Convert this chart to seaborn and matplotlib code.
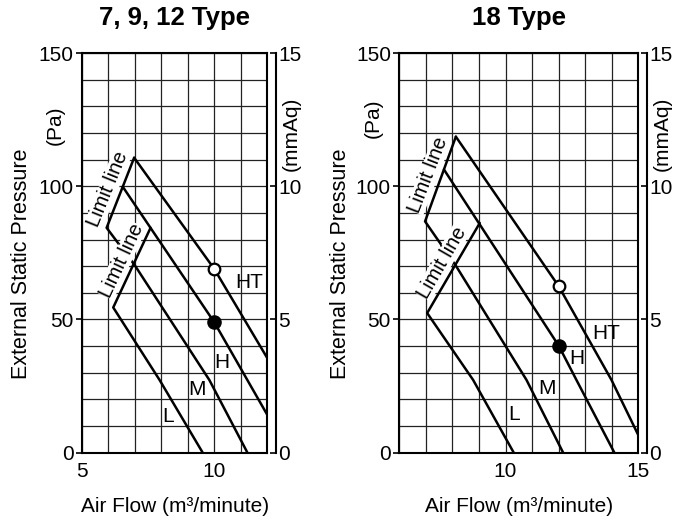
import numpy as np
import pandas as pd
import matplotlib
matplotlib.use("Agg")
import matplotlib.pyplot as plt
from matplotlib.ticker import MultipleLocator
import seaborn as sns

sns.set_style("ticks")
plt.rcParams['font.family'] = ['Liberation Sans', 'DejaVu Sans']
for key in ("text.color", "axes.labelcolor", "xtick.color", "ytick.color"):
    plt.rcParams[key] = "black"

# ---- 7, 9, 12 Type : air flow (m3/min) vs external static pressure (Pa) ----
small_ht_x = [6.97, 10.0, 12.0]
small_ht_y = [110.7, 68.9, 35.5]
small_h_x = [6.54, 10.0, 12.0]
small_h_y = [99.8, 48.9, 14.2]
small_m_x = [5.93, 6.99, 9.81, 11.25]
small_m_y = [84.4, 70.4, 27.3, 0.0]
small_l_x = [6.18, 7.93, 9.56]
small_l_y = [54.5, 27.3, 0.0]
small_limit_hi_x = [6.97, 5.93]
small_limit_hi_y = [110.7, 84.4]
small_limit_lo_x = [7.59, 6.18]
small_limit_lo_y = [84.4, 54.5]
small_rated_x = 10.0
small_rated_ht = 68.9
small_rated_h = 48.9

# ---- 18 Type ----
big_ht_x = [8.13, 12.0, 13.99, 15.0]
big_ht_y = [118.6, 62.5, 27.3, 6.6]
big_h_x = [7.68, 12.0, 12.67, 14.1]
big_h_y = [106.3, 40.2, 27.3, 0.0]
big_m_x = [6.97, 8.16, 10.79, 12.17]
big_m_y = [86.8, 69.7, 27.3, 0.0]
big_l_x = [7.05, 8.78, 10.31]
big_l_y = [52.4, 27.3, 0.0]
big_limit_hi_x = [8.13, 6.97]
big_limit_hi_y = [118.6, 86.8]
big_limit_lo_x = [9.03, 7.05]
big_limit_lo_y = [86.2, 52.4]
big_rated_x = 12.0
big_rated_ht = 62.5
big_rated_h = 40.2

speed_names = ["HT", "H", "M", "L"]
titles = ["7, 9, 12 Type", "18 Type"]
x_limits = [(5, 12), (6, 15)]
x_major = [[5, 10], [10, 15]]
pa_ticks = [0, 50, 100, 150]
mmaq_ticks = [0, 5, 10, 15]

small_label_pos = {"HT": (11.3, 64), "H": (10.3, 34), "M": (9.35, 23.6), "L": (8.25, 13.5)}
big_label_pos = {"HT": (13.8, 44.9), "H": (12.67, 35.5), "M": (11.56, 24.2), "L": (10.31, 14.5)}
small_limit_text = [(5.98, 98.8, 68), (6.49, 72.2, 65)]
big_limit_text = [(7.1, 104.2, 69), (7.62, 71.4, 60)]


def curve_frame(pairs):
    rows = []
    for name, xs, ys in pairs:
        for x, y in zip(xs, ys):
            rows.append({"flow": x, "pressure": y, "curve": name})
    return pd.DataFrame(rows)


panels = [
    dict(df=curve_frame([
        ("HT", small_ht_x, small_ht_y), ("H", small_h_x, small_h_y),
        ("M", small_limit_hi_x + small_m_x, small_limit_hi_y + small_m_y),
        ("L", small_limit_lo_x + small_l_x, small_limit_lo_y + small_l_y)]),
        rated_x=small_rated_x, rated_ht=small_rated_ht, rated_h=small_rated_h,
        labels=small_label_pos, limit_text=small_limit_text),
    dict(df=curve_frame([
        ("HT", big_ht_x, big_ht_y), ("H", big_h_x, big_h_y),
        ("M", big_limit_hi_x + big_m_x, big_limit_hi_y + big_m_y),
        ("L", big_limit_lo_x + big_l_x, big_limit_lo_y + big_l_y)]),
        rated_x=big_rated_x, rated_ht=big_rated_ht, rated_h=big_rated_h,
        labels=big_label_pos, limit_text=big_limit_text),
]

W, H = 682, 528
fig = plt.figure(figsize=(W / 100, H / 100), dpi=100)
axes_px = [(82, 267.3), (399.3, 638.3)]
top_px, bottom_px = 53, 452.7

fs = 15
for i, (p, (l, r)) in enumerate(zip(panels, axes_px)):
    ax = fig.add_axes([l / W, 1 - bottom_px / H, (r - l) / W, (bottom_px - top_px) / H])
    ax.set_xlim(*x_limits[i])
    ax.set_ylim(0, 150)
    ax.xaxis.set_minor_locator(MultipleLocator(1))
    ax.yaxis.set_minor_locator(MultipleLocator(10))
    ax.set_xticks(x_major[i])
    ax.set_yticks(pa_ticks)
    ax.grid(which="both", color="#222222", lw=0.9, zorder=0)
    ax.set_axisbelow(True)
    ax.tick_params(axis="x", which="both", length=0, pad=7, labelsize=fs)
    ax.tick_params(axis="y", which="major", direction="out", length=4.5, width=1.2,
                   pad=1.5, labelsize=fs)
    ax.tick_params(axis="y", which="minor", length=0)
    for s in ax.spines.values():
        s.set_linewidth(1.5)
        s.set_color("black")

    sns.lineplot(data=p["df"], x="flow", y="pressure", units="curve", estimator=None,
                 sort=False, color="black", lw=1.8, ax=ax, zorder=3, legend=False)
    sns.scatterplot(x=[p["rated_x"]], y=[p["rated_ht"]], ax=ax, s=70, color="white",
                    edgecolor="black", linewidth=1.6, zorder=5)
    sns.scatterplot(x=[p["rated_x"]], y=[p["rated_h"]], ax=ax, s=110, color="black",
                    edgecolor="black", linewidth=0, zorder=5)
    ax.set_xlabel("")
    ax.set_ylabel("")

    for name in speed_names:
        x, y = p["labels"][name]
        ax.text(x, y, name, fontsize=fs, ha="center", va="center", zorder=6)
    for x, y, rot in p["limit_text"]:
        ax.text(x, y, "Limit line", fontsize=14.5, rotation=rot, ha="center", va="center",
                rotation_mode="anchor", zorder=4,
                bbox=dict(boxstyle="square,pad=0.0", fc="white", ec="none"))

    ax.set_title(titles[i], fontsize=18.5, fontweight="bold", pad=20)

    # secondary pressure scale in mmAq
    ax2 = ax.twinx()
    ax2.set_ylim(0, 15)
    ax2.set_yticks(mmaq_ticks)
    for side in ("top", "bottom", "left"):
        ax2.spines[side].set_visible(False)
    ax2.spines["right"].set_position(("outward", 6.5))
    ax2.spines["right"].set_linewidth(1.5)
    ax2.spines["right"].set_color("black")
    ax2.tick_params(axis="y", direction="in", length=4, width=1.2, pad=1.5, labelsize=fs)
    ax2.grid(False)

    cx = (l + r) / 2
    fig.text(cx / W, 1 - 506 / H, "Air Flow (m³/minute)", fontsize=fs,
             ha="center", va="center")

# axis captions
for xpx in (21.7, 340):
    fig.text(xpx / W, 1 - 264 / H, "External Static Pressure", fontsize=15.5,
             rotation=90, ha="center", va="center")
fig.text(55 / W, 1 - 125 / H, "(Pa)", fontsize=fs, rotation=90, ha="center", va="center")
fig.text(373.3 / W, 1 - 118 / H, "(Pa)", fontsize=fs, rotation=90, ha="center", va="center")
fig.text(291.7 / W, 1 - 134 / H, "(mmAq)", fontsize=fs, rotation=90, ha="center", va="center")
fig.text(662 / W, 1 - 134 / H, "(mmAq)", fontsize=fs, rotation=90, ha="center", va="center")

fig.savefig("out.png", dpi=100, facecolor="white")
